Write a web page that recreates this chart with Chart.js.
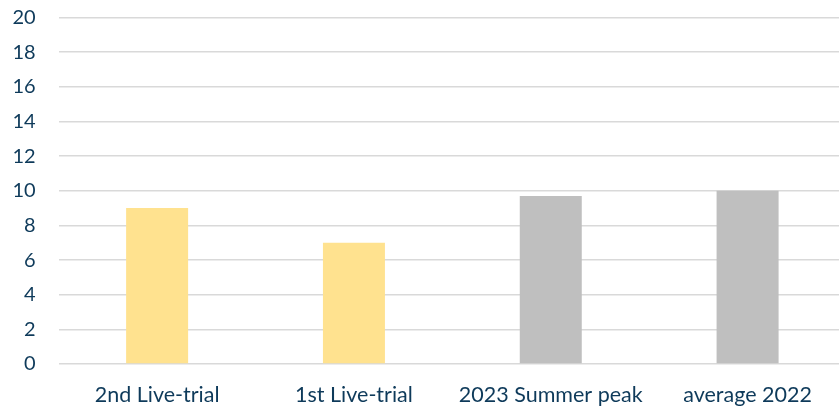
<!DOCTYPE html>
<html>
<head>
<meta charset="utf-8">
<script src="https://cdn.jsdelivr.net/npm/chart.js@4"></script>
<style>
html,body{margin:0;padding:0;background:#fff;overflow:hidden;}
#wrap{width:846px;height:406px;position:relative;}
</style>
</head>
<body>
<div id="wrap"><canvas id="c"></canvas></div>
<script>
const categories = ["2nd Live-trial", "1st Live-trial", "2023 Summer peak", "average 2022"];
const values = [9.0, 7.0, 9.7, 10.0];
const barColors = ["#FFE28F", "#FFE28F", "#BFBFBF", "#BFBFBF"];
const yTicks = [0, 2, 4, 6, 8, 10, 12, 14, 16, 18, 20];

const textColor = "#0E3A5A";
const fontFamily = "Lato, 'Open Sans', sans-serif";

new Chart(document.getElementById('c'), {
  type: 'bar',
  data: {
    labels: categories,
    datasets: [{
      data: values,
      backgroundColor: barColors,
      borderWidth: 0,
      barPercentage: 0.315,
      categoryPercentage: 1.0
    }]
  },
  options: {
    responsive: true,
    maintainAspectRatio: false,
    animation: false,
    layout: { padding: { top: 17.5, right: 0, bottom: 0, left: 0 } },
    plugins: { legend: { display: false }, tooltip: { enabled: false } },
    scales: {
      x: {
        afterFit: (s) => { s.height = 42; s.paddingLeft = 0; s.paddingRight = 0; },
        grid: { display: false },
        border: { display: false },
        ticks: { color: textColor, font: { family: fontFamily, size: 21.5 }, padding: 10, maxRotation: 0 }
      },
      y: {
        min: 0, max: 20,
        afterBuildTicks: (s) => { s.ticks = yTicks.map(v => ({ value: v })); },
        afterFit: (s) => { s.width = 58.7; s.paddingTop = 0; s.paddingBottom = 0; },
        grid: { color: "#D9D9D9", lineWidth: 1.5, drawTicks: false },
        border: { display: false },
        ticks: { color: textColor, font: { family: fontFamily, size: 20 }, padding: 23 }
      }
    }
  }
});
</script>
</body>
</html>
